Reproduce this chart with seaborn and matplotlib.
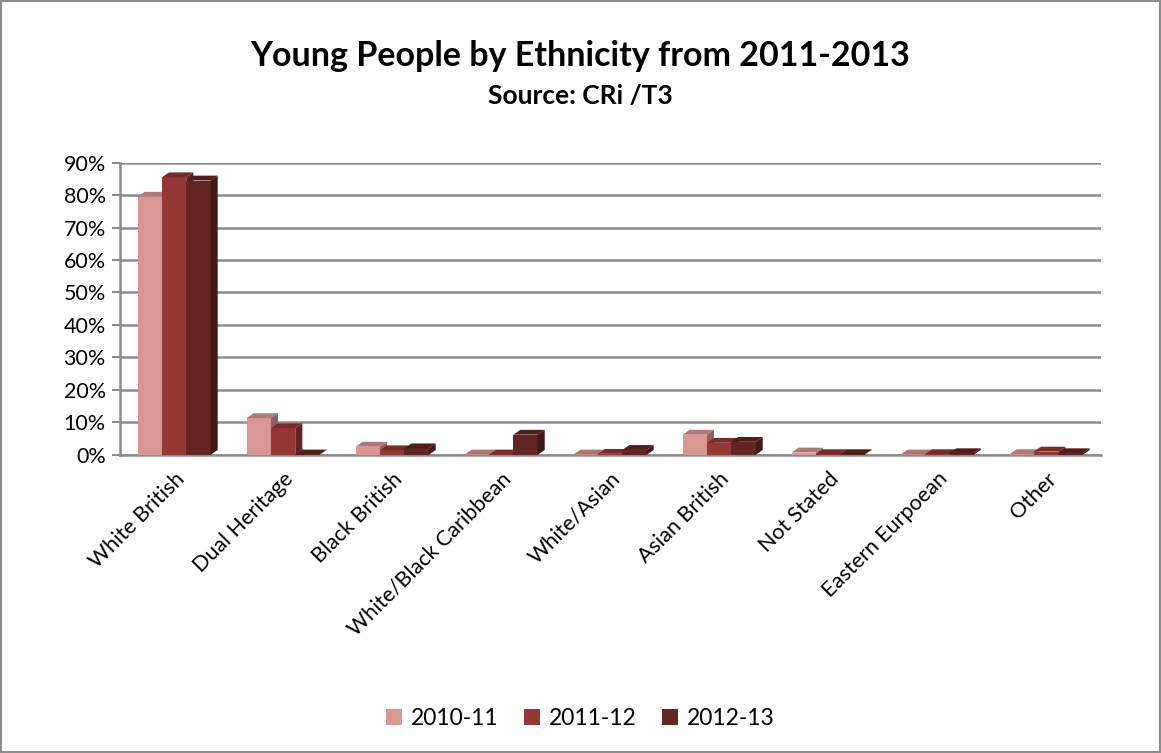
import matplotlib
matplotlib.use("Agg")
import matplotlib.pyplot as plt
import numpy as np
import pandas as pd
import seaborn as sns
from matplotlib.patches import Polygon, Rectangle
from matplotlib.colors import to_rgb

categories = [
    "White British", "Dual Heritage", "Black British", "White/Black Caribbean",
    "White/Asian", "Asian British", "Not Stated", "Eastern Eurpoean", "Other",
]
years = ["2010-11", "2011-12", "2012-13"]
vals_2010 = [79.5, 11.3, 2.5, 0.1, 0.1, 6.2, 0.7, 0.1, 0.2]
vals_2011 = [85.5, 8.2, 1.4, 0.1, 0.3, 3.7, 0.2, 0.2, 1.0]
vals_2012 = [84.5, 0.1, 2.0, 6.2, 1.5, 4.0, 0.2, 0.5, 0.5]
colors = ["#D99694", "#953735", "#632523"]

df = pd.DataFrame({
    "category": categories * 3,
    "year": np.repeat(years, len(categories)),
    "value": np.array(vals_2010 + vals_2011 + vals_2012) / 100,
})

sns.set_style("white")
plt.rcParams["font.family"] = ["Lato", "DejaVu Sans"]
plt.rcParams["text.color"] = "black"
plt.rcParams["xtick.color"] = "black"
plt.rcParams["ytick.color"] = "black"

fig = plt.figure(figsize=(11.61, 7.53), dpi=100)
ax = fig.add_axes([0.103, 0.396, 0.845, 0.388])

sns.barplot(data=df, x="category", y="value", hue="year", palette=colors,
            width=0.67, saturation=1, legend=False, ax=ax)

# fake 3D: side and top faces from each bar, layered so the next bar hides the side
dx, dy = 0.065, 0.015
n = len(categories)
for i, bar in enumerate(list(ax.patches)):
    layer = 3 + i // n
    x0, w, h = bar.get_x(), bar.get_width(), bar.get_height()
    base = np.array(to_rgb(bar.get_facecolor()))
    bar.set_edgecolor("none")
    bar.set_zorder(layer)
    top = Polygon([(x0, h), (x0 + w, h), (x0 + w + dx, h + dy), (x0 + dx, h + dy)],
                  closed=True, facecolor=base * 0.8, edgecolor="none", zorder=layer + 0.5)
    side = Polygon([(x0 + w, 0), (x0 + w + dx, dy), (x0 + w + dx, h + dy), (x0 + w, h)],
                   closed=True, facecolor=base * 0.65, edgecolor="none", zorder=layer + 0.5)
    ax.add_patch(top)
    ax.add_patch(side)

ax.set_ylim(0, 0.9)
ax.set_xlim(-0.5, n - 0.5)
ticks = np.arange(0, 0.91, 0.1)
ax.set_yticks(ticks)
ax.set_yticklabels([f"{int(round(t * 100))}%" for t in ticks], fontsize=15.5)
ax.yaxis.grid(True, color="#8c8c8c", linewidth=1.8, zorder=0)
ax.set_axisbelow(True)
ax.set_xlabel("")
ax.set_ylabel("")

ax.set_xticks(range(n))
ax.set_xticklabels(categories, rotation=45, ha="right", rotation_mode="anchor", fontsize=15.5)
ax.set_xticks(np.arange(-0.5, n, 1), minor=True)
ax.tick_params(axis="x", which="major", length=0, pad=10)
ax.tick_params(axis="x", which="minor", length=7, width=1.5, color="#8c8c8c", direction="out")
ax.tick_params(axis="y", length=6, width=1.5, color="#8c8c8c", labelcolor="black",
               direction="out", left=True, pad=4)

for side_name in ["top", "right"]:
    ax.spines[side_name].set_visible(False)
for side_name in ["left", "bottom"]:
    ax.spines[side_name].set_color("#8c8c8c")
    ax.spines[side_name].set_linewidth(1.8)

fig.text(0.5, 0.925, "Young People by Ethnicity from 2011-2013", ha="center", va="center",
         fontsize=24.5, fontweight="bold")
fig.text(0.5, 0.872, "Source: CRi /T3", ha="center", va="center",
         fontsize=19, fontweight="bold")

handles = [Rectangle((0, 0), 1, 1, facecolor=c, edgecolor="none") for c in colors]
fig.legend(handles, years, loc="center", bbox_to_anchor=(0.5, 0.046), ncol=3, frameon=False,
           fontsize=16.5, handlelength=0.7, handleheight=0.7, columnspacing=1.1, handletextpad=0.4)

fig.patches.append(Rectangle((0.001, 0.001), 0.998, 0.998, transform=fig.transFigure,
                             fill=False, edgecolor="#8c8c8c", linewidth=1.5))

fig.savefig("out.png", dpi=100, facecolor="white")
